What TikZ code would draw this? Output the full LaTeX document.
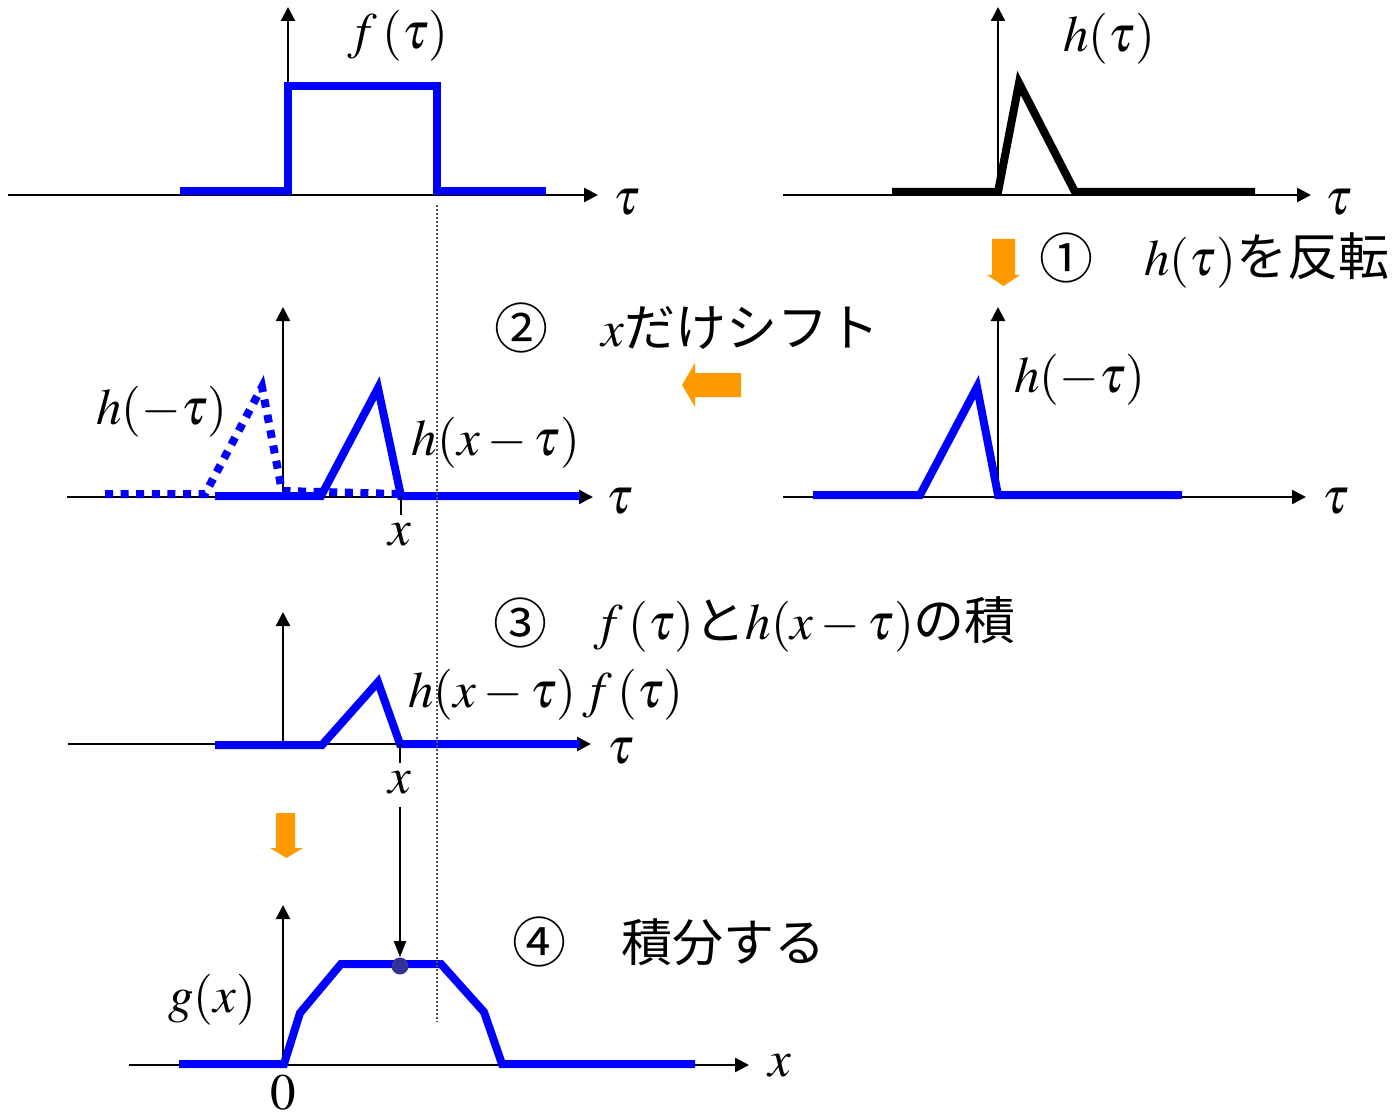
\documentclass[tikz,border=0pt]{standalone}
\usepackage{mathptmx}
\usepackage{fontspec}
\newfontfamily\jpfont{Noto Sans CJK JP}
\usetikzlibrary{arrows.meta}
\definecolor{sigblue}{HTML}{0000FF}
\definecolor{sigorange}{HTML}{FF9900}
\definecolor{dotnavy}{HTML}{333399}
\definecolor{guidegray}{HTML}{505050}
\tikzset{
  axisline/.style={line width=1.2pt, -{Triangle[length=7pt,width=7pt]}},
  sig/.style={line width=4pt, sigblue},
  sigdots/.style={line width=4pt, sigblue, dash pattern=on 4pt off 3.8pt},
  hsig/.style={line width=4pt, black},
  tickmark/.style={line width=0.8pt},
  guide/.style={line width=0.6pt, guidegray, dash pattern=on 1pt off 1pt},
  mlab/.style={inner sep=0pt, font=\fontsize{25.5}{30}\selectfont},
  jlab/.style={inner sep=0pt, anchor=west, font=\jpfont\fontsize{25.5}{30}\selectfont},
  numlab/.style={inner sep=0pt, font=\jpfont\fontsize{27}{30}\selectfont},
  bigarr/.style={fill=sigorange, draw=none},
  pick/.style={line width=1pt, -{Triangle[length=8pt,width=6pt]}},
}
\begin{document}
\begin{tikzpicture}[x=0.5pt, y=-0.5pt]
  \useasboundingbox (0,0) rectangle (1395,1112);

  % f(tau)
  \draw[axisline] (8,195) -- (598,195);
  \draw[axisline] (288,195) -- (288,7);
  \draw[sig] (180,191) -- (288,191) -- (288,86) -- (437,86) -- (437,191) -- (546,191);
  \node[mlab] (flab) at (398,36) {$f\,(\tau)$};
  \node[mlab] (tauA) at (627,202) {$\tau$};

  % h(tau)
  \draw[axisline] (783,195) -- (1311,195);
  \draw[axisline] (998,195) -- (998,7);
  \draw[hsig] (892,192) -- (998,192) -- (1019,83) -- (1075,192) -- (1255,192);
  \node[mlab] (hlab) at (1109,39) {$h(\tau)$};
  \node[mlab] (tauB) at (1339,202) {$\tau$};

  % step 1
  \fill[bigarr] (992,239) -- (1015,239) -- (1015,275) -- (1020,275) -- (1003.5,286)
    -- (987,275) -- (992,275) -- cycle;
  \node[numlab] (num1) at (1066,258) {①};
  \node[jlab] (txt1) at (1144,260) {$h(\tau)$を反転};

  % h(-tau)
  \draw[axisline] (783,497) -- (1306,497);
  \draw[axisline] (998,497) -- (998,307);
  \draw[sig] (813,495) -- (920,495) -- (977,387) -- (998,495) -- (1182,495);
  \node[mlab] (hmlab) at (1080,380) {$h(-\tau)$};
  \node[mlab] (tauC) at (1336,501) {$\tau$};

  % step 2
  \fill[bigarr] (741,373) -- (695,373) -- (695,363) -- (682,385) -- (695,407)
    -- (695,397) -- (741,397) -- cycle;
  \node[numlab] (num2) at (521,328) {②};
  \node[jlab] (txt2) at (601,328) {$x$だけシフト};

  % shifted
  \draw[axisline] (67,497) -- (593,497);
  \draw[axisline] (283,497) -- (283,307);
  \draw[sigdots] (105,494) -- (205,494) -- (262,387) -- (282,491) -- (400,494);
  \draw[sig] (215,496) -- (321,496) -- (378,388) -- (401,496) -- (580,496);
  \draw[tickmark] (401,497) -- (401,515);
  \node[mlab] (hmlabD) at (162,412) {$h(-\tau)$};
  \node[mlab] (hxlab) at (496,443) {$h(x-\tau)$};
  \node[mlab] (xD) at (400,535) {$x$};
  \node[mlab] (tauD) at (620,501) {$\tau$};

  % step 3
  \node[numlab] (num3) at (520,623) {③};
  \node[jlab] (txt3) at (593,624) {$f\,(\tau)$と$h(x-\tau)$の積};

  % product
  \draw[axisline] (68,744) -- (591,744);
  \draw[axisline] (283,744) -- (283,612);
  \draw[sig] (215,745) -- (322,745) -- (378,682) -- (400,744) -- (580,744);
  \draw[tickmark] (400,744) -- (400,763);
  \node[mlab] (prodlab) at (546,695) {$h(x-\tau)\,f\,(\tau)$};
  \node[mlab] (xE) at (400,783) {$x$};
  \node[mlab] (tauE) at (621,751) {$\tau$};

  % step 4
  \fill[bigarr] (276,813) -- (295,813) -- (295,848) -- (303,848) -- (286.5,858)
    -- (270,848) -- (276,848) -- cycle;
  \node[numlab] (num4) at (539,942) {④};
  \node[jlab] (txt4) at (621,942) {積分する};

  % g(x)
  \draw[axisline] (129,1065) -- (749,1065);
  \draw[axisline] (283,1065) -- (283,905);
  \draw[sig] (179,1064) -- (284,1064) -- (300,1013) -- (341,964) -- (441,964)
    -- (484,1012) -- (502,1064) -- (695,1064);
  \node[circle, fill=dotnavy, inner sep=0pt, minimum size=8.5pt] (gdot) at (400,966) {};
  \node[mlab] (glab) at (212,1000) {$g(x)$};
  \node[mlab] (zero) at (283,1093) {$0$};
  \node[mlab] (xF) at (780,1066) {$x$};
  \draw[pick] ([yshift=-6pt]xE.south) -- (gdot.north);

  \draw[guide] (437,205) -- (437,1022);
\end{tikzpicture}
\end{document}
